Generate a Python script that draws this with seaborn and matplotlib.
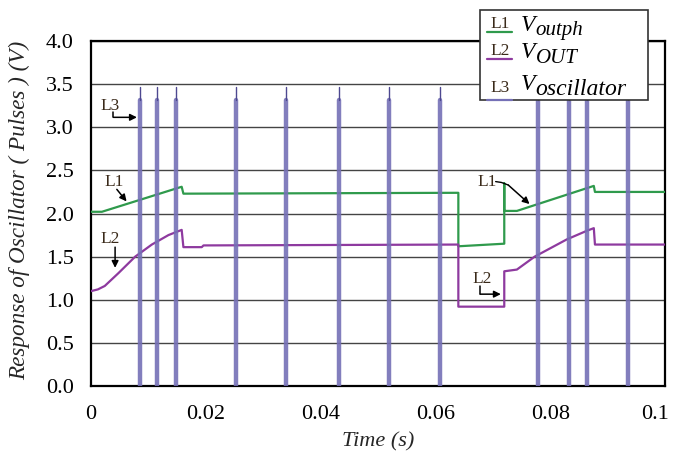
import numpy as np
import pandas as pd
import seaborn as sns
import matplotlib.pyplot as plt
import matplotlib.transforms as mtransforms
from matplotlib.patches import Rectangle

# ---- data -------------------------------------------------------------
# L1: V_outph
t_outph = [0.0, 0.0019, 0.0158, 0.0161, 0.0640, 0.0640, 0.0720, 0.0720, 0.0720,
           0.0742, 0.0876, 0.0878, 0.1]
v_outph = [2.02, 2.02, 2.31, 2.23, 2.24, 1.62, 1.65, 2.35, 2.03,
           2.03, 2.32, 2.25, 2.25]

# L2: V_OUT
t_out = [0.0, 0.0012, 0.0024, 0.0048, 0.0077, 0.0106, 0.0135, 0.0158, 0.0161,
         0.0193, 0.0196, 0.0640, 0.0640, 0.0720, 0.0720, 0.0742, 0.0773, 0.0829,
         0.0864, 0.0876, 0.0878, 0.1]
v_out = [1.10, 1.12, 1.16, 1.31, 1.50, 1.64, 1.75, 1.81, 1.61,
         1.61, 1.63, 1.64, 0.92, 0.92, 1.33, 1.35, 1.50, 1.70,
         1.80, 1.83, 1.64, 1.64]

# L3: oscillator pulses (firing instants, plateau and peak level)
pulse_times = [0.00854, 0.0115, 0.0148, 0.0253, 0.0339, 0.0432, 0.0520, 0.0608,
               0.0779, 0.0832, 0.0864, 0.0936]
pulse_level = 3.32
pulse_peak = 3.47

x_ticks = [0, 0.02, 0.04, 0.06, 0.08, 0.1]
x_tick_labels = ["0", "0.02", "0.04", "0.06", "0.08", "0.1"]
y_ticks = [0.0, 0.5, 1.0, 1.5, 2.0, 2.5, 3.0, 3.5, 4.0]

GREEN = "#2f9a4c"
PURPLE = "#8e3a9f"
PULSE = "#7570b6"

# ---- style --------------------------------------------------------------
sns.set_theme(style="white")
plt.rcParams["font.family"] = ["Liberation Serif", "DejaVu Serif"]

fig = plt.figure(figsize=(6.76, 4.59), dpi=100)
ax = fig.add_axes([0.1346, 0.159, 0.8491, 0.7517])

# pulse table: one unit per pulse, body and thin tip
body = pd.DataFrame([dict(t=t, v=v, u=i) for i, t in enumerate(pulse_times)
                     for v in (0.0, pulse_level)])
tips = pd.DataFrame([dict(t=t, v=v, u=i) for i, t in enumerate(pulse_times)
                     for v in (pulse_level, pulse_peak)])

sns.lineplot(data=pd.DataFrame(dict(t=t_outph, v=v_outph)), x="t", y="v",
             sort=False, estimator=None, color=GREEN, lw=1.6, ax=ax, zorder=3)
sns.lineplot(data=pd.DataFrame(dict(t=t_out, v=v_out)), x="t", y="v",
             sort=False, estimator=None, color=PURPLE, lw=1.6, ax=ax, zorder=3)
sns.lineplot(data=body, x="t", y="v", units="u", estimator=None, sort=False,
             color=PULSE, lw=3.2, alpha=0.9, ax=ax, zorder=4)
sns.lineplot(data=tips, x="t", y="v", units="u", estimator=None, sort=False,
             color="#4d4890", lw=1.0, ax=ax, zorder=4)

ax.set_xlim(0, 0.1)
ax.set_ylim(0, 4.0)
ax.set_xticks(x_ticks)
ax.set_xticklabels(x_tick_labels)
ax.set_yticks(y_ticks)
ax.set_yticklabels([f"{y:.1f}" for y in y_ticks])
ax.tick_params(axis="both", direction="out", length=5.5, width=1.2, color="black",
               labelsize=16, labelcolor="black")
ax.tick_params(axis="x", pad=8)
ax.tick_params(axis="y", pad=7)
# keep the last time label inside the figure
last = ax.get_xticklabels()[-1]
last.set_transform(last.get_transform() +
                   mtransforms.ScaledTranslation(-10 / 100, 0, fig.dpi_scale_trans))

ax.yaxis.grid(True, color="#444444", lw=1.0)
ax.xaxis.grid(False)
ax.set_axisbelow(True)
for s in ax.spines.values():
    s.set_color("black")
    s.set_linewidth(1.6)

ax.set_xlabel("Time (s)", fontsize=16, style="italic")
ax.xaxis.set_label_coords(0.5, -0.133)
ax.set_ylabel("Response of Oscillator ( Pulses ) (V)", fontsize=16.7,
              style="italic")
ax.yaxis.set_label_coords(-0.106, 0.51)

# ---- annotations ------------------------------------------------------
ann = dict(fontsize=12.5, color="#3a2a1a")
arrow = dict(arrowstyle="-|>", color="black", lw=1.1, mutation_scale=10,
             shrinkA=0, shrinkB=0)

# L3 with elbow arrow
ax.text(0.0033, 3.25, "L3", ha="center", va="center", **ann)
ax.plot([0.0039, 0.0039], [3.18, 3.115], color="black", lw=1.1, zorder=5)
ax.annotate("", xy=(0.0080, 3.115), xytext=(0.0039, 3.115), arrowprops=arrow)

# L1 left
ax.text(0.0040, 2.37, "L1", ha="center", va="center", **ann)
ax.annotate("", xy=(0.0062, 2.14), xytext=(0.0045, 2.28), arrowprops=arrow)

# L2 left
ax.text(0.0033, 1.70, "L2", ha="center", va="center", **ann)
ax.annotate("", xy=(0.0042, 1.37), xytext=(0.0042, 1.61), arrowprops=arrow)

# L1 right
ax.text(0.0690, 2.36, "L1", ha="center", va="center", **ann)
ax.plot([0.0705, 0.0715, 0.0727], [2.37, 2.36, 2.33], color="black", lw=1.0, zorder=5)
ax.annotate("", xy=(0.0764, 2.11), xytext=(0.0727, 2.33), arrowprops=arrow)

# L2 right with elbow arrow
ax.text(0.0681, 1.24, "L2", ha="center", va="center", **ann)
ax.plot([0.0678, 0.0678], [1.16, 1.065], color="black", lw=1.1, zorder=5)
ax.annotate("", xy=(0.0714, 1.065), xytext=(0.0678, 1.065), arrowprops=arrow)

# ---- legend box -------------------------------------------------------
ax.add_patch(Rectangle((0.678, 0.829), 0.292, 0.261, transform=ax.transAxes,
                       facecolor="white", edgecolor="#333333", lw=1.2,
                       clip_on=False, zorder=10))
# (tag, subscript, colour, tag baseline, underline, V baseline, subscript size)
entries = [("L1", "outph", GREEN, 1.037, 1.027, 1.030, 15),
           ("L2", "OUT", PURPLE, 0.959, 0.948, 0.950, 15),
           ("L3", "oscillator", PULSE, 0.853, 0.830, 0.858, 17)]
for tag, sub, col, yt, yu, yb, fs in entries:
    ax.text(0.7125, yt, tag, transform=ax.transAxes, ha="center",
            va="baseline", fontsize=12.5, color="#3a2a1a", zorder=11,
            clip_on=False)
    ax.plot([0.690, 0.733], [yu, yu], transform=ax.transAxes, color=col,
            lw=1.6, clip_on=False, zorder=11)
    vt = ax.text(0.749, yb, "V", transform=ax.transAxes, ha="left",
                 va="baseline", fontsize=17, style="italic", color="black",
                 zorder=11, clip_on=False)
    ax.annotate(sub, xy=(1.0, 0.0), xycoords=vt, xytext=(0.3, -3.5),
                textcoords="offset points", ha="left", va="bottom",
                fontsize=fs, style="italic", color="black", zorder=11,
                annotation_clip=False)

fig.savefig("out.png", dpi=100)
